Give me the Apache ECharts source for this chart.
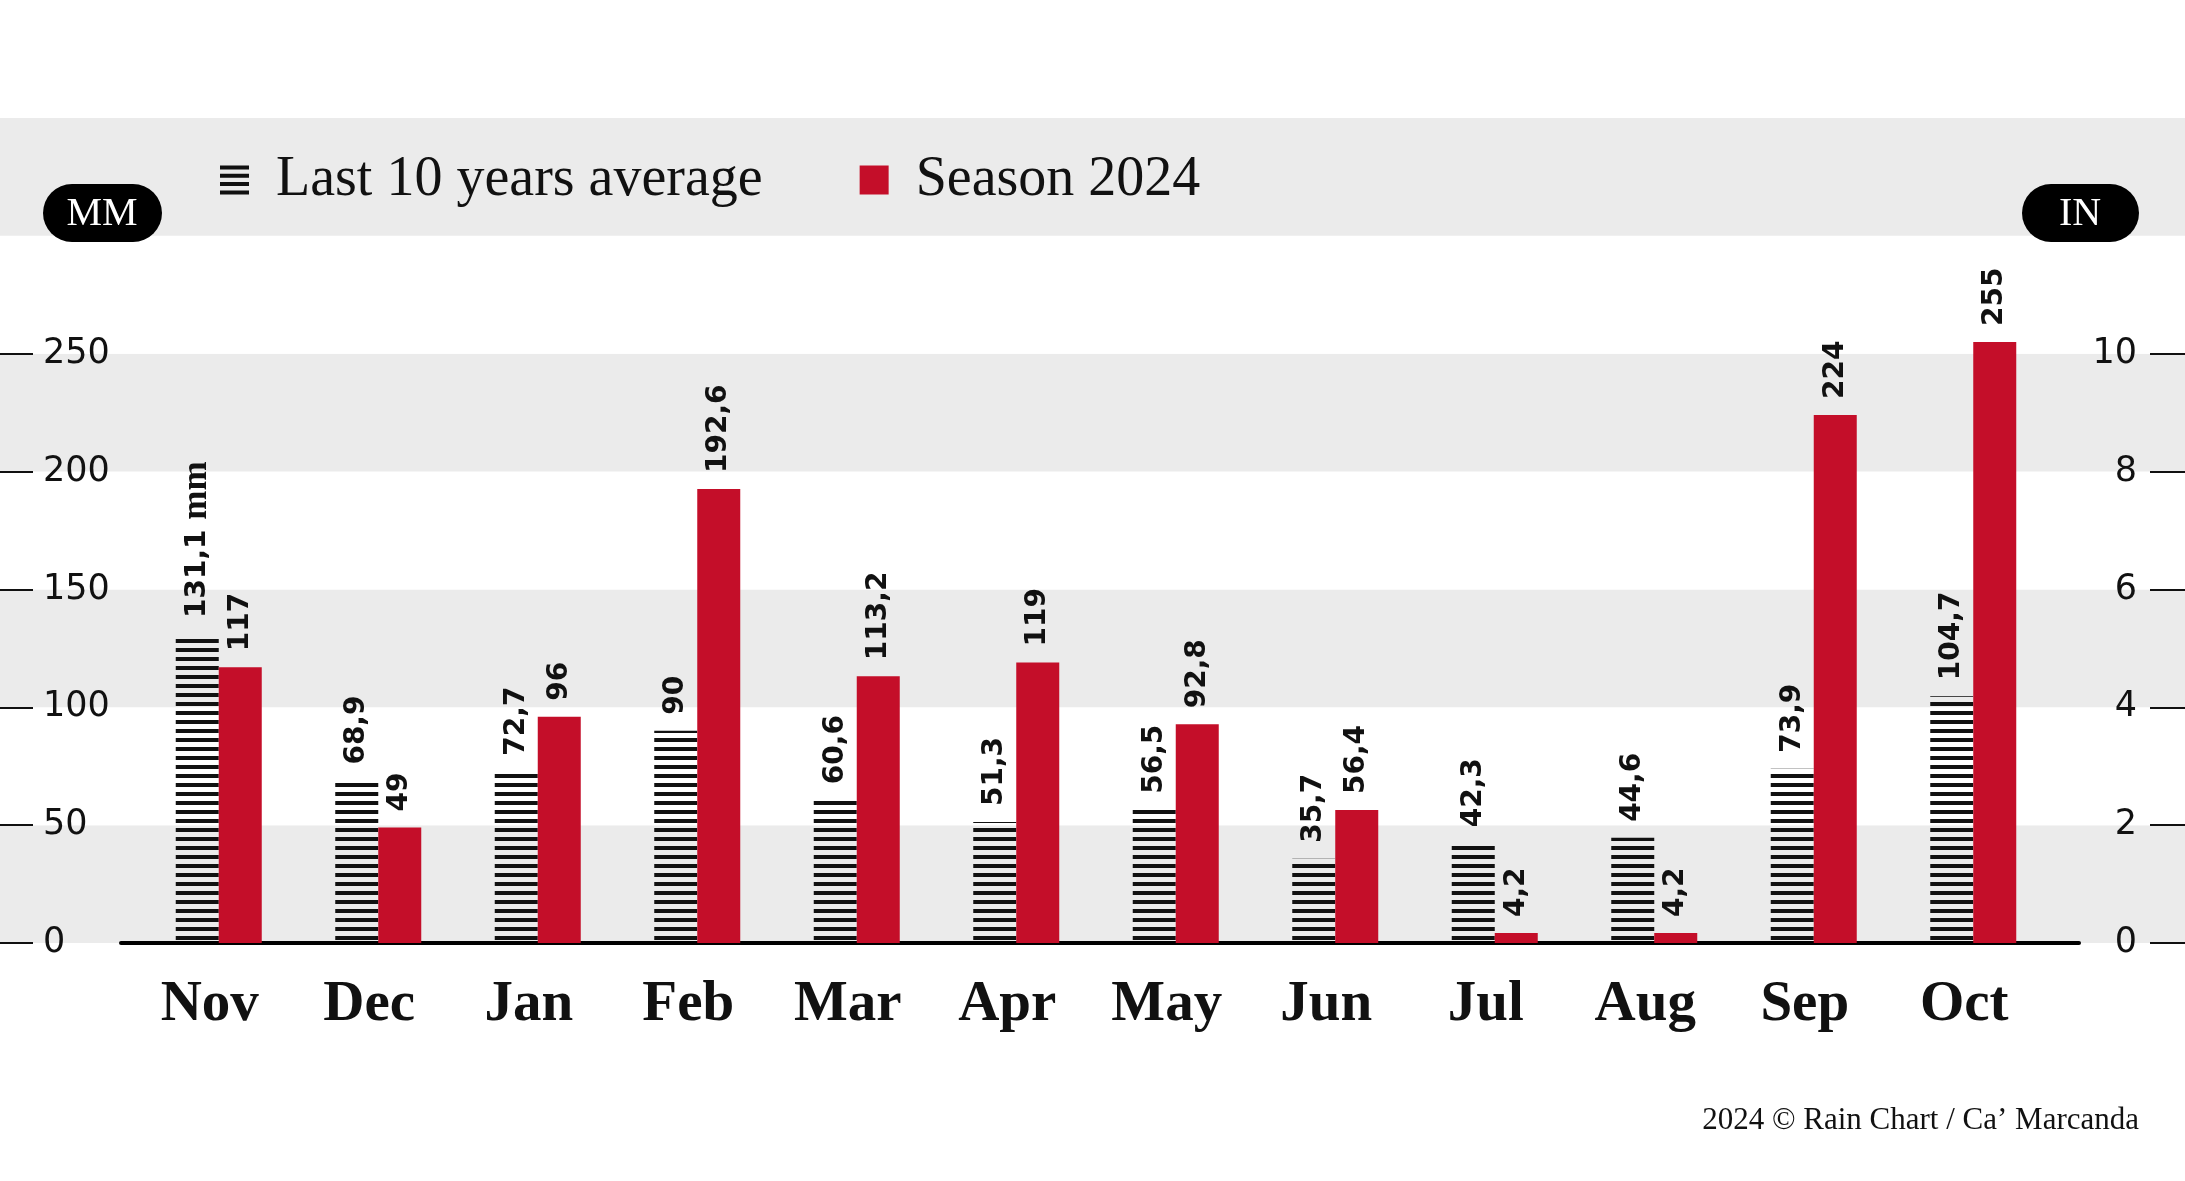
<!DOCTYPE html>
<html>
<head>
<meta charset="utf-8">
<script src="https://cdn.jsdelivr.net/npm/echarts@6/dist/echarts.min.js"></script>
<style>
html,body{margin:0;padding:0;background:#ffffff;}
#c{width:2185px;height:1181px;}
</style>
</head>
<body>
<div id="c"></div>
<script>
// ---- data ----
const months = ['Nov','Dec','Jan','Feb','Mar','Apr','May','Jun','Jul','Aug','Sep','Oct'];
const avgValues = [131.1, 68.9, 72.7, 90, 60.6, 51.3, 56.5, 35.7, 42.3, 44.6, 73.9, 104.7];
const seasonValues = [117, 49, 96, 192.6, 113.2, 119, 92.8, 56.4, 4.2, 4.2, 224, 255];
const mmTicks = [0, 50, 100, 150, 200, 250];
const inTicks = [0, 2, 4, 6, 8, 10];
const seriesNames = ['Last 10 years average', 'Season 2024'];
const footerText = '2024 \u00A9 Rain Chart / Ca\u2019 Marcanda';

// ---- styles ----
const RED = '#c40e29';
const GRAY = '#ebebeb';
const INK = '#111111';

const pc = document.createElement('canvas');
pc.width = 4; pc.height = 9;
const pctx = pc.getContext('2d');
pctx.fillStyle = INK;
pctx.fillRect(0, 0, 4, 4);

const fmt = v => String(v).replace('.', ',');

function labelCfg(withUnit) {
  return {
    show: true,
    position: 'top',
    rotate: 90,
    align: 'left',
    verticalAlign: 'middle',
    distance: 16,
    color: INK,
    fontFamily: 'DejaVu Sans',
    fontWeight: 'bold',
    fontSize: 28,
    formatter: p => (withUnit && p.dataIndex === 0) ? '{v|' + fmt(p.value) + '} {u|mm}' : fmt(p.value),
    rich: {
      v: {fontFamily: 'DejaVu Sans', fontWeight: 'bold', fontSize: 28, color: INK},
      u: {fontFamily: 'Liberation Serif', fontWeight: 'bold', fontSize: 35, color: INK}
    }
  };
}

const chart = echarts.init(document.getElementById('c'), null, {renderer: 'canvas'});
chart.setOption({
  animation: false,
  backgroundColor: '#ffffff',
  title: {
    text: footerText,
    right: 46, top: 1105, padding: 0,
    textStyle: {fontFamily: 'Liberation Serif', fontSize: 31, fontWeight: 'normal', color: INK}
  },
  legend: {
    left: 215, top: 147,
    itemWidth: 29, itemHeight: 29, itemGap: 97,
    selectedMode: false,
    data: [
      {name: seriesNames[0], icon: 'path://M0,0H29V4H0Z M0,8.3H29V12.3H0Z M0,16.6H29V20.6H0Z M0,25H29V29H0Z', itemStyle: {color: INK}},
      {name: seriesNames[1], icon: 'rect', itemStyle: {color: RED}}
    ],
    textStyle: {fontFamily: 'Liberation Serif', fontSize: 56, color: INK, padding: [0, 0, 0, 22]}
  },
  graphic: [
    {type: 'rect', z: 100, left: 43, top: 184, shape: {width: 119, height: 58, r: 29}, style: {fill: '#000'}},
    {type: 'text', z: 101, x: 102, y: 214, style: {text: 'MM', fill: '#fff', font: '40px "Liberation Serif"', align: 'center', verticalAlign: 'middle', textAlign: 'center', textVerticalAlign: 'middle'}},
    {type: 'rect', z: 100, left: 2022, top: 184, shape: {width: 117, height: 58, r: 29}, style: {fill: '#000'}},
    {type: 'text', z: 101, x: 2080, y: 214, style: {text: 'IN', fill: '#fff', font: '40px "Liberation Serif"', align: 'center', verticalAlign: 'middle', textAlign: 'center', textVerticalAlign: 'middle'}}
  ],
  grid: [
    {left: 0, right: 0, top: 118, bottom: 238},
    {left: 139, right: 132, top: 118, bottom: 238},
    {left: 121, right: 106, top: 118, bottom: 238}
  ],
  xAxis: [
    {gridIndex: 0, type: 'value', min: 0, max: 1, show: false},
    {gridIndex: 1, type: 'category', data: months,
      axisLine: {show: false}, axisTick: {show: false},
      axisLabel: {margin: 34, padding: [0, 18, 0, 0], fontFamily: 'Liberation Serif', fontWeight: 'bold', fontSize: 57, color: INK}},
    {gridIndex: 2, type: 'value', min: 0, max: 1,
      axisLine: {show: true, lineStyle: {color: '#000', width: 4}},
      axisTick: {show: false}, axisLabel: {show: false}, splitLine: {show: false}}
  ],
  yAxis: [
    {gridIndex: 0, type: 'value', min: 0, max: 350, interval: 50,
      axisLine: {show: false}, axisTick: {show: false}, axisLabel: {show: false},
      splitLine: {show: false},
      splitArea: {show: true, areaStyle: {color: [GRAY, '#ffffff']}}},
    {gridIndex: 0, type: 'value', position: 'left', min: 0, max: 350, interval: 50,
      axisLine: {show: false},
      axisTick: {show: true, inside: true, length: 33, lineStyle: {color: INK, width: 2}, customValues: mmTicks},
      axisLabel: {inside: true, margin: 43, customValues: mmTicks, fontFamily: 'DejaVu Sans', fontSize: 35, color: INK},
      splitLine: {show: false}},
    {gridIndex: 0, type: 'value', position: 'right', min: 0, max: 14, interval: 2,
      axisLine: {show: false},
      axisTick: {show: true, inside: true, length: 35, lineStyle: {color: INK, width: 2}, customValues: inTicks},
      axisLabel: {inside: true, margin: 48, customValues: inTicks, fontFamily: 'DejaVu Sans', fontSize: 35, color: INK},
      splitLine: {show: false}},
    {gridIndex: 1, type: 'value', min: 0, max: 350, show: false},
    {gridIndex: 2, type: 'value', min: 0, max: 1, show: false}
  ],
  series: [
    {name: seriesNames[0], type: 'bar', xAxisIndex: 1, yAxisIndex: 3, data: avgValues,
      barWidth: 43, barGap: '0%', itemStyle: {color: {image: pc, repeat: 'repeat'}},
      emphasis: {disabled: true}, label: labelCfg(true)},
    {name: seriesNames[1], type: 'bar', xAxisIndex: 1, yAxisIndex: 3, data: seasonValues,
      barWidth: 43, barGap: '0%', itemStyle: {color: RED},
      emphasis: {disabled: true}, label: labelCfg(false)}
  ]
});
</script>
</body>
</html>
